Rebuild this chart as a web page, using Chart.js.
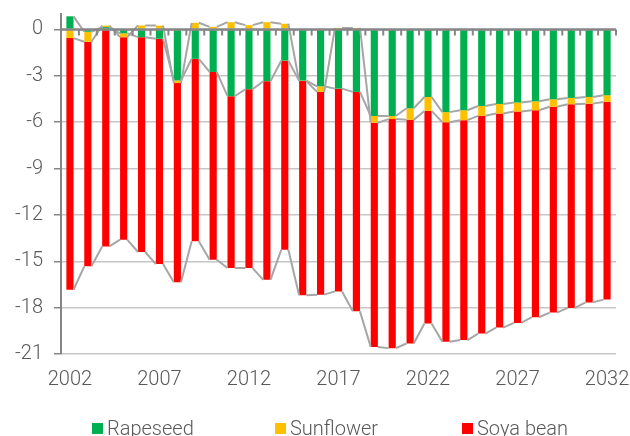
<!DOCTYPE html>
<html>
<head>
<meta charset="utf-8">
<script src="https://cdn.jsdelivr.net/npm/chart.js@4.4.1/dist/chart.umd.min.js"></script>
<style>
  body { margin: 0; background: #fff; }
  #wrap { position: relative; width: 630px; height: 436px; overflow: hidden; }
  #legend { position: absolute; left: 0; top: 416px; width: 630px; height: 24px; }
  .item { position: absolute; top: 0; height: 24px; display: flex; align-items: center;
          font: 300 20px Roboto, sans-serif; color: #595959; line-height: 24px; white-space: nowrap; }
  .box { width: 11px; height: 11px; margin-right: 4px; }
</style>
</head>
<body>
<div id="wrap">
  <canvas id="myChart" width="630" height="436"></canvas>
  <div id="legend"></div>
</div>
<script>
// Categories
const years = ['2002', '2003', '2004', '2005', '2006', '2007', '2008', '2009', '2010', '2011',
  '2012', '2013', '2014', '2015', '2016', '2017', '2018', '2019', '2020', '2021', '2022',
  '2023', '2024', '2025', '2026', '2027', '2028', '2029', '2030', '2031', '2032'];

// Series values
const rapeseed = [0.85, -0.15, 0.15, -0.25, -0.5, -0.6, -3.3, -1.9, -2.75, -4.32,
  -3.87, -3.35, -2.02, -3.31, -3.68, -3.83, -4.04, -5.6, -5.6, -5.1, -4.37,
  -5.35, -5.23, -4.95, -4.82, -4.73, -4.65, -4.52, -4.43, -4.37, -4.26];
const sunflower = [-0.56, -0.65, 0.1, -0.25, 0.26, 0.25, -0.17, 0.43, 0.17, 0.47,
  0.28, 0.47, 0.37, -0.03, -0.36, 0.1, 0.1, -0.43, -0.2, -0.75, -0.9,
  -0.65, -0.64, -0.64, -0.62, -0.58, -0.58, -0.48, -0.41, -0.43, -0.43];
const soyaBean = [-16.28, -14.53, -14.04, -13.1, -13.9, -14.58, -12.88, -11.8, -12.15, -11.12,
  -11.57, -12.85, -12.24, -13.86, -13.12, -13.12, -14.2, -14.51, -14.82, -14.47, -13.76,
  -14.2, -14.23, -14.09, -13.85, -13.68, -13.39, -13.32, -13.18, -12.86, -12.79];

// Series names and tick labels
const seriesNames = ['Rapeseed', 'Sunflower', 'Soya bean'];
const yTicks = [-21, -18, -15, -12, -9, -6, -3, 0];

const colors = ['#00b050', '#ffc000', '#ff0000'];
const axisGrey = '#868686';

Chart.defaults.font.family = 'Roboto, sans-serif';
Chart.defaults.font.size = 20;
Chart.defaults.font.weight = 300;
Chart.defaults.color = '#595959';

// Excel-like series lines joining the end of each stacked bar to the next one
const seriesLines = {
  id: 'seriesLines',
  afterDatasetsDraw(chart) {
    const ctx = chart.ctx;
    ctx.save();
    ctx.strokeStyle = '#a6a6a6';
    ctx.lineWidth = 2;
    chart.data.datasets.forEach((ds, i) => {
      const bars = chart.getDatasetMeta(i).data;
      ctx.beginPath();
      for (let j = 0; j < bars.length - 1; j++) {
        const a = bars[j], b = bars[j + 1];
        ctx.moveTo(a.x + a.width / 2, a.y);
        ctx.lineTo(b.x - b.width / 2, b.y);
      }
      ctx.stroke();
    });

    // zero axis with tick marks between categories
    const x = chart.scales.x, y = chart.scales.y;
    const y0 = y.getPixelForValue(0);
    const step = x.width / years.length;
    ctx.strokeStyle = axisGrey;
    ctx.lineWidth = 2.5;
    ctx.beginPath();
    ctx.moveTo(x.left, y0);
    ctx.lineTo(x.right, y0);
    ctx.stroke();
    ctx.lineWidth = 2;
    ctx.beginPath();
    for (let k = 1; k <= years.length; k++) {
      const px = x.left + k * step;
      ctx.moveTo(px, y0);
      ctx.lineTo(px, y0 + 6);
    }
    ctx.stroke();
    ctx.restore();
  }
};

const data = {
  labels: years,
  datasets: [rapeseed, sunflower, soyaBean].map((vals, i) => ({
    label: seriesNames[i],
    data: vals,
    backgroundColor: colors[i],
    stack: 'oil',
    barPercentage: 0.4,
    categoryPercentage: 1
  }))
};

const options = {
  responsive: false,
  animation: false,
  layout: { padding: { left: 0, right: 14, top: 14, bottom: 44 } },
  plugins: {
    legend: { display: false },
    tooltip: { enabled: false }
  },
  scales: {
    x: {
      stacked: true,
      offset: true,
      grid: { display: false, drawTicks: false },
      border: { display: false },
      ticks: {
        autoSkip: false,
        maxRotation: 0,
        padding: 14,
        callback: (v, i) => (i % 5 === 0 ? years[i] : '')
      },
      afterFit: (scale) => { scale.height = 38; scale.paddingLeft = 0; scale.paddingRight = 0; }
    },
    y: {
      stacked: true,
      min: -21,
      max: 1,
      afterBuildTicks: (scale) => {
        scale.ticks = yTicks.map(v => ({ value: v }));
      },
      afterFit: (scale) => { scale.width = 61; scale.paddingTop = 0; scale.paddingBottom = 0; },
      grid: {
        color: '#c6c6c6',
        lineWidth: 1.5,
        tickLength: 7,
        tickColor: axisGrey
      },
      border: { display: true, color: axisGrey, width: 2 },
      ticks: { padding: 11 }
    }
  }
};

new Chart(document.getElementById('myChart').getContext('2d'), {
  type: 'bar',
  data: data,
  options: options,
  plugins: [seriesLines]
});

// HTML legend built from the series names and colours
const legendLeft = [92, 275, 462];
const legend = document.getElementById('legend');
seriesNames.forEach((name, i) => {
  const item = document.createElement('div');
  item.className = 'item';
  item.style.left = legendLeft[i] + 'px';
  item.innerHTML = '<span class="box" style="background:' + colors[i] + '"></span><span>' + name + '</span>';
  legend.appendChild(item);
});
</script>
</body>
</html>
